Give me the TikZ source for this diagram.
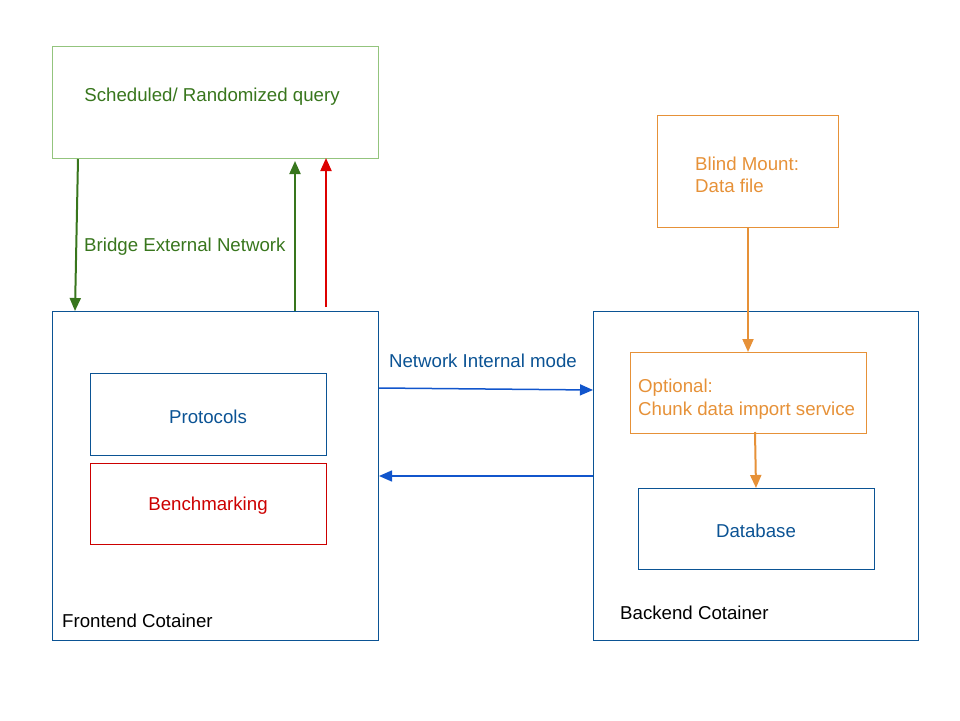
\documentclass[tikz,border=0pt]{standalone}
\usepackage{fontspec}
\setmainfont{Liberation Sans}
\usetikzlibrary{arrows.meta,calc}
\definecolor{gtext}{HTML}{38761D}
\definecolor{gline}{HTML}{93C47D}
\definecolor{bline}{HTML}{0B5394}
\definecolor{barrow}{HTML}{1155CC}
\definecolor{rline}{HTML}{CC0000}
\definecolor{rarrow}{HTML}{DD0000}
\definecolor{oline}{HTML}{E69138}
\tikzset{
  box/.style={draw, line width=1pt, rectangle, inner sep=0pt, anchor=north west},
  lbl/.style={font=\fontsize{18.67}{22.4}\selectfont, inner sep=0pt},
  arr/.style={line width=2pt, -{Triangle[length=13pt,width=11pt]}},
}
\begin{document}
\begin{tikzpicture}[x=1pt,y=-1pt]
\useasboundingbox (0,0) rectangle (960,720);
% boxes
\node[box, draw=gline, minimum width=326pt, minimum height=112pt] (top) at (52,46) {};
\node[box, draw=bline, minimum width=326pt, minimum height=329pt] (front) at (52,311) {};
\node[box, draw=bline, minimum width=236pt, minimum height=82pt] (proto) at (90,373) {};
\node[box, draw=rline, minimum width=236pt, minimum height=81pt] (bench) at (90,463) {};
\node[box, draw=oline, minimum width=181pt, minimum height=112pt] (blind) at (657,115) {};
\node[box, draw=bline, minimum width=325pt, minimum height=329pt] (back) at (593,311) {};
\node[box, draw=oline, minimum width=236pt, minimum height=81pt] (opt) at (630,352) {};
\node[box, draw=bline, minimum width=236pt, minimum height=81pt] (db) at (638,488) {};
% texts
\node[lbl, text=gtext] (tq) at (212,97) {Scheduled/ Randomized query};
\node[lbl, text=bline] (tp) at (208,417) {Protocols};
\node[lbl, text=rline] (tb) at (208,506) {Benchmarking};
\node[lbl, text=black, anchor=west] (tf) at (62,621) {Frontend Cotainer};
\node[lbl, text=black, anchor=west] (tbk) at (620,613) {Backend Cotainer};
\node[lbl, text=oline, anchor=west, align=left] (tbl) at (695,175) {Blind Mount:\\Data file};
\node[lbl, text=oline, anchor=west, align=left] (to) at (638,399) {Optional:\\Chunk data import service};
\node[lbl, text=bline] (td) at (756,531) {Database};
\node[lbl, text=gtext, anchor=west] (tbr) at (84,247) {Bridge External Network};
\node[lbl, text=bline] (tn) at (483,361) {Network Internal mode};
% connectors
\draw[arr, gtext] ([xshift=26pt]top.south west) -- ([xshift=23pt]front.north west);
\draw[arr, gtext] ([xshift=243pt]front.north west) -- ([xshift=243pt,yshift=-2pt]top.south west);
\draw[arr, rarrow] ([xshift=274pt,yshift=4pt]front.north west) -- ([xshift=274pt,yshift=1pt]top.south west);
\draw[arr, barrow, line width=1.5pt] ([yshift=-77pt]front.north east) -- ([yshift=-79pt]back.north west);
\draw[arr, barrow, line width=1.5pt] ([yshift=-165pt]back.north west) -- ([yshift=-165pt]front.north east);
\draw[arr, oline] ([xshift=91pt]blind.south west) -- ([xshift=118pt]opt.north west);
\draw[arr, oline] ([xshift=125pt,yshift=2pt]opt.south west) -- ([xshift=118pt]db.north west);
\end{tikzpicture}
\end{document}
